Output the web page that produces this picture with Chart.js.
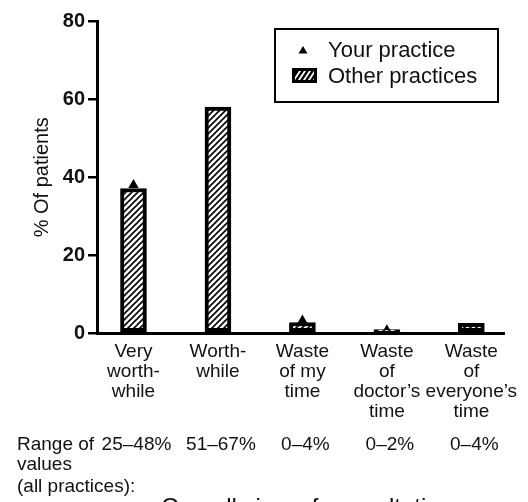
<!DOCTYPE html>
<html lang="en">
<head>
  <meta charset="UTF-8" />
  <title>Overall view of consultation</title>
  <script src="https://cdn.jsdelivr.net/npm/chart.js"></script>
  <style>
    body {
      margin: 0;
      background: #fff;
    }
    .wrap {
      width: 528px;
      height: 502px;
      position: relative;
    }
  </style>
</head>
<body>
  <div class="wrap"><canvas id="viewChart"></canvas></div>

  <script>
const categories = [
  ['Very', 'worth-', 'while'],
  ['Worth-', 'while'],
  ['Waste', 'of my', 'time'],
  ['Waste', 'of', 'doctor’s', 'time'],
  ['Waste', 'of', 'everyone’s', 'time']
];
const otherPractices = [37.1, 58, 2.7, 0.9, 2.5];
const yourPractice = [38, 56, 3.2, 0.7, 1];
const rangeLabels = ['25–48%', '51–67%', '0–4%', '0–2%', '0–4%'];
const yTicks = [0, 20, 40, 60, 80];

const FONT = '"Liberation Sans", Arial, sans-serif';
const ctx = document.getElementById('viewChart').getContext('2d');

// diagonal hatch "////"
function makeHatch(size, lw) {
  const c = document.createElement('canvas');
  c.width = c.height = size;
  const g = c.getContext('2d');
  g.fillStyle = '#fff';
  g.fillRect(0, 0, size, size);
  g.strokeStyle = '#000';
  g.lineWidth = lw;
  g.beginPath();
  g.moveTo(-1, size + 1); g.lineTo(size + 1, -1);
  g.moveTo(-1, 1); g.lineTo(1, -1);
  g.moveTo(size - 1, size + 1); g.lineTo(size + 1, size - 1);
  g.stroke();
  return ctx.createPattern(c, 'repeat');
}
const hatch = makeHatch(6, 1.6);

// legend box, range row and bottom title
const extras = {
  id: 'extras',
  afterDraw(chart) {
    const { ctx, chartArea: ca, scales: { x } } = chart;
    ctx.save();
    ctx.fillStyle = '#111';
    ctx.textBaseline = 'middle';

    ctx.font = '19px ' + FONT;
    ctx.textAlign = 'left';
    ctx.fillText('Range of', 17, ca.bottom + 112);
    ctx.fillText('values', 17, ca.bottom + 132);
    ctx.fillText('(all practices):', 17, ca.bottom + 154);
    ctx.textAlign = 'center';
    rangeLabels.forEach((t, i) => ctx.fillText(t, x.getPixelForValue(i) + 3, ca.bottom + 112));

    ctx.font = '24px ' + FONT;
    ctx.textBaseline = 'alphabetic';
    ctx.fillText('Overall view of consultation', 307, 515);

    // legend
    ctx.strokeStyle = '#000';
    ctx.lineWidth = 2;
    ctx.strokeRect(275, 29, 223, 73);

    ctx.fillStyle = '#000';
    ctx.beginPath();
    ctx.moveTo(303, 46);
    ctx.lineTo(307.5, 53.5);
    ctx.lineTo(298.5, 53.5);
    ctx.closePath();
    ctx.fill();

    ctx.fillRect(292, 68, 25, 15);
    ctx.save();
    ctx.beginPath();
    ctx.rect(295, 71, 19, 9);
    ctx.clip();
    ctx.strokeStyle = '#fff';
    ctx.lineWidth = 1.8;
    ctx.beginPath();
    for (let k = 0; k < 6; k++) {
      ctx.moveTo(292 + k * 5, 83);
      ctx.lineTo(302 + k * 5, 68);
    }
    ctx.stroke();
    ctx.restore();

    ctx.fillStyle = '#111';
    ctx.font = '22px ' + FONT;
    ctx.textAlign = 'left';
    ctx.textBaseline = 'middle';
    ctx.fillText('Your practice', 328, 51);
    ctx.fillText('Other practices', 328, 77);
    ctx.restore();
  }
};

const viewChart = new Chart(ctx, {
  type: 'bar',
  data: {
    datasets: [
      {
        label: 'Other practices',
        data: otherPractices.map((v, i) => ({ x: i, y: v })),
        backgroundColor: hatch,
        borderColor: '#000',
        borderWidth: 4,
        borderSkipped: false,
        barThickness: 26
      },
      {
        type: 'line',
        label: 'Your practice',
        data: yourPractice.map((v, i) => ({ x: i, y: v })),
        showLine: false,
        pointStyle: 'triangle',
        pointRadius: 6,
        pointBackgroundColor: '#000',
        pointBorderWidth: 0
      }
    ]
  },
  options: {
    responsive: true,
    maintainAspectRatio: false,
    animation: false,
    events: [],
    layout: { padding: { left: 20, top: 21.5, right: 23, bottom: 0 } },
    plugins: {
      legend: { display: false },
      tooltip: { enabled: false }
    },
    scales: {
      x: {
        type: 'linear',
        offset: false,
        min: -0.432,
        max: 4.396,
        afterFit: s => { s.height = 169; },
        afterBuildTicks: axis => { axis.ticks = categories.map((c, i) => ({ value: i })); },
        grid: { offset: false, drawOnChartArea: false, drawTicks: false },
        border: { color: '#000', width: 3 },
        ticks: {
          autoSkip: false,
          maxRotation: 0,
          padding: 9,
          color: '#111',
          font: { family: FONT, size: 19, lineHeight: 1.05 },
          callback: v => categories[v]
        }
      },
      y: {
        min: 0,
        max: 80,
        afterFit: s => { s.width = 77; },
        afterBuildTicks: axis => { axis.ticks = yTicks.map(v => ({ value: v })); },
        grid: { drawOnChartArea: false, drawTicks: true, tickLength: 9, color: '#000', lineWidth: 2.5 },
        border: { color: '#000', width: 3 },
        title: {
          display: true,
          text: '% Of patients',
          color: '#111',
          font: { family: FONT, size: 20 },
          padding: { top: 10, bottom: 0 }
        },
        ticks: {
          padding: 3,
          color: '#111',
          font: { family: FONT, size: 20, weight: 'bold' }
        }
      }
    }
  },
  plugins: [extras]
});
  </script>
</body>
</html>
